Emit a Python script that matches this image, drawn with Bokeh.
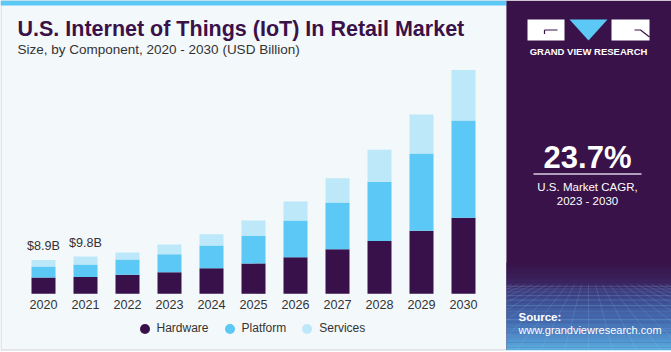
from bokeh.plotting import figure
from bokeh.models import Range1d, Legend, LegendItem, Label, ColumnDataSource
from bokeh.embed import file_html
from bokeh.resources import INLINE
from bokeh.core.properties import value

# ---------------- data ----------------
years = [2020, 2021, 2022, 2023, 2024, 2025, 2026, 2027, 2028, 2029, 2030]
year_labels = [str(y) for y in years]
hardware = [4.3, 4.4, 5.0, 5.7, 6.7, 8.0, 9.6, 11.7, 13.9, 16.6, 20.0]
platform = [2.9, 3.3, 4.0, 4.7, 6.0, 7.2, 9.7, 12.3, 15.6, 20.3, 25.6]
services = [1.7, 2.1, 1.9, 2.6, 3.0, 4.1, 5.0, 6.4, 8.4, 10.3, 13.3]
series_names = ["Hardware", "Platform", "Services"]
series_colors = ["#38114A", "#5BC8F5", "#BDE8F9"]
total_labels = ["$8.9B", "$9.8B"]
title_text = "U.S. Internet of Things (IoT) In Retail Market"
subtitle_text = "Size, by Component, 2020 - 2030 (USD Billion)"
cagr_text = "23.7%"
cagr_sub1 = "U.S. Market CAGR,"
cagr_sub2 = "2023 - 2030"

FONT = "Liberation Sans"
W, H = 671, 352
PURPLE = "#381248"
BASE_SHIFT = 0.29  # correction of the rendered alphabetic baseline (fraction of font size)

p = figure(width=W, height=H, x_range=Range1d(0, W), y_range=Range1d(H, 0),
           min_border=0, toolbar_location=None, output_backend="svg",
           x_axis_location=None, y_axis_location=None)
p.grid.visible = False
p.outline_line_color = None
p.background_fill_color = "white"
p.border_fill_color = "white"

# data ranges mapped onto the canvas
px_per_year = 42.0
first_center_px = 43.0
yr_start = years[0] - first_center_px / px_per_year
p.extra_x_ranges = {"yr": Range1d(yr_start, yr_start + W / px_per_year)}
base_px = 293.3
px_per_b = 3.8
v_start = -(H - base_px) / px_per_b
p.extra_y_ranges = {"val": Range1d(v_start, v_start + H / px_per_b)}

# ---------------- decoration: panels ----------------
p.quad(left=[0.5], right=[506], top=[0], bottom=[349.5], fill_color="#F3F8FB",
       line_color="#CDD1D5", line_width=1)
p.quad(left=[0], right=[506], top=[0], bottom=[5], fill_color="#5BC8F5", line_color=None)
p.quad(left=[506], right=[W], top=[0], bottom=[349.5], fill_color=PURPLE, line_color=None)

# gradient at bottom of right panel
stops = [(262, (0x38, 0x12, 0x48)), (282, (0x3B, 0x24, 0x5F)), (292, (0x3C, 0x3E, 0x80)),
         (306, (0x3F, 0x5A, 0x9E)), (322, (0x45, 0x70, 0xB4)), (336, (0x4E, 0x8C, 0xCA)),
         (349.5, (0x5A, 0xAE, 0xE0))]
def col_at(y):
    for (ya, ca), (yb, cb) in zip(stops[:-1], stops[1:]):
        if ya <= y <= yb:
            t = (y - ya) / (yb - ya)
            c = [int(round(a + (b - a) * t)) for a, b in zip(ca, cb)]
            return "#%02x%02x%02x" % tuple(c)
    return "#%02x%02x%02x" % stops[-1][1]
band_top, band_bot, nb = 262.0, 349.5, 35
step = (band_bot - band_top) / nb
g_top = [band_top + i * step for i in range(nb)]
g_bot = [t + step + 0.3 for t in g_top]
g_col = [col_at(t + step / 2) for t in g_top]
p.quad(left=[506] * nb, right=[W] * nb, top=g_top, bottom=g_bot, fill_color=g_col, line_color=None)

# perspective grid
hz = 284.0
xs_l, ys_l = [], []
for yy in [286, 288.5, 291.5, 295, 299.5, 305, 311.5, 319, 327.5, 337, 347.5]:
    xs_l.append([506, W]); ys_l.append([yy, yy])
vx = 588.0
def clip(x1, y1, x2, y2):
    for lim in (506.0, float(W)):
        if (x1 - lim) * (x2 - lim) < 0:
            t = (lim - x1) / (x2 - x1)
            yi = y1 + t * (y2 - y1)
            if (x2 < 506.0) or (x2 > W):
                x2, y2 = lim, yi
            else:
                x1, y1 = lim, yi
    return x1, y1, x2, y2
for k in range(-14, 15):
    a1, b1, a2, b2 = clip(vx + k * 7.0, hz, vx + k * 24.0, 349.5)
    if 506 <= a1 <= W and 506 <= a2 <= W:
        xs_l.append([a1, a2]); ys_l.append([b1, b2])
p.multi_line(xs=xs_l, ys=ys_l, line_color="#9FC4EE", line_alpha=0.22, line_width=0.8)

# logo
p.quad(left=[527, 611], right=[564, 649], top=[19, 19], bottom=[40, 40],
       fill_color="white", line_color=None)
p.patch(x=[569, 607, 588], y=[19, 19, 40], fill_color="#5BC8F5", line_color=None)
p.multi_line(xs=[[544, 557], [544, 544], [634, 640, 649]],
             ys=[[29.5, 29.5], [29.5, 33.5], [29.5, 29.5, 36.5]],
             line_color=PURPLE, line_width=1.2)

# ---------------- bars ----------------
src = ColumnDataSource(data=dict(year=years, Hardware=hardware, Platform=platform, Services=services))
p.vbar_stack(series_names, x="year", width=24 / px_per_year, color=series_colors,
             source=src, x_range_name="yr", y_range_name="val", line_color=None)

totals = [h + pl + s for h, pl, s in zip(hardware, platform, services)]
p.text(x=years[:2], y=totals[:2], text=total_labels, x_range_name="yr", y_range_name="val",
       y_offset=-10 - BASE_SHIFT * 12.6, text_align="center", text_baseline="alphabetic",
       text_font=value(FONT), text_font_size="12.6px", text_color="#333333")

p.text(x=years, y=[303.5] * len(years), text=year_labels, x_range_name="yr",
       text_align="center", text_baseline="middle",
       text_font=value(FONT), text_font_size="12.6px", text_color="#333333")

# legend (dummy renderers placed off-canvas so that only legend glyphs show)
leg_rs = [p.scatter(x=[-100], y=[-100], marker="circle", size=10, fill_color=c, line_color=None)
          for c in series_colors]
legend = Legend(items=[LegendItem(label=n, renderers=[r]) for n, r in zip(series_names, leg_rs)],
                orientation="horizontal", location=(131.5, 11.5), padding=0, margin=0,
                spacing=8, glyph_width=25, glyph_height=25, label_standoff=0,
                label_height=14, border_line_color=None, background_fill_alpha=0,
                label_text_font=FONT, label_text_font_size="12px", label_text_color="#333333")
p.add_layout(legend)

# ---------------- texts ----------------
def label(x, y, text, size, bold=False, color="white", align="left"):
    p.add_layout(Label(x=x, y=y - BASE_SHIFT * size, text=text, text_font=FONT,
                       text_font_size="%gpx" % size, text_font_style="bold" if bold else "normal",
                       text_color=color, text_align=align, text_baseline="alphabetic"))

label(17, 35, title_text, 21.5, bold=True, color="#3A1148")
label(17, 53, subtitle_text, 13.5, color="#333333")
label(588, 54, "GRAND VIEW RESEARCH", 9.5, bold=True, align="center")
label(587, 166, cagr_text, 31, bold=True, align="center")
p.segment(x0=[533], y0=[173.5], x1=[641], y1=[173.5], line_color="#D9CFE2", line_width=1.5)
label(587, 190, cagr_sub1, 11.5, align="center")
label(587, 204, cagr_sub2, 11.5, align="center")
label(518, 320, "Source:", 11.5, bold=True)
label(518, 332.5, "www.grandviewresearch.com", 11)

open("out.html", "w").write(file_html(p, INLINE))
